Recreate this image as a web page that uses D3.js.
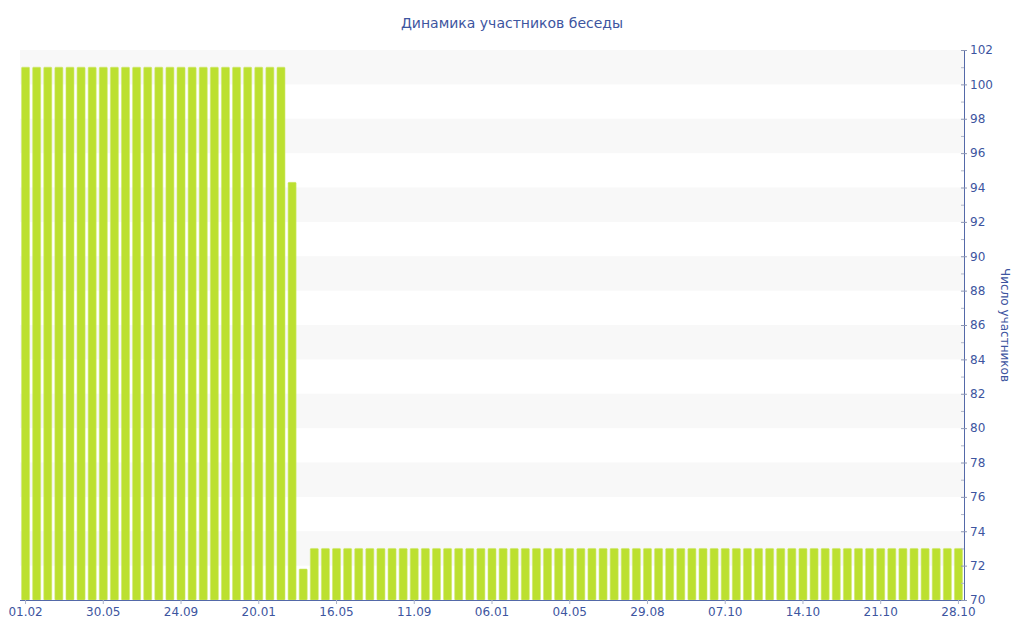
<!DOCTYPE html>
<html>
<head>
<meta charset="utf-8">
<script src="https://cdn.jsdelivr.net/npm/d3@7"></script>
<style>
  html, body { margin: 0; padding: 0; background: #ffffff; }
  svg { display: block; }
</style>
</head>
<body>
<svg id="chart" width="1024" height="640"></svg>
<script>
const titleText = "Динамика участников беседы";
const yAxisTitle = "Число участников";

const values = [
  101, 101, 101, 101, 101, 101, 101, 101, 101, 101, 101, 101,
  101, 101, 101, 101, 101, 101, 101, 101, 101, 101, 101, 101,
  94.3, 71.8,
  73, 73, 73, 73, 73, 73, 73, 73, 73, 73, 73, 73, 73, 73, 73,
  73, 73, 73, 73, 73, 73, 73, 73, 73, 73, 73, 73, 73, 73, 73,
  73, 73, 73, 73, 73, 73, 73, 73, 73, 73, 73, 73, 73, 73, 73,
  73, 73, 73, 73, 73, 73, 73, 73, 73, 73, 73, 73, 73, 73
];
const tickLabels = ["01.02", "30.05", "24.09", "20.01", "16.05", "11.09", "06.01",
                    "04.05", "29.08", "07.10", "14.10", "21.10", "28.10"];
const tickEvery = 7;
const yTicks = [70, 72, 74, 76, 78, 80, 82, 84, 86, 88, 90, 92, 94, 96, 98, 100, 102];

(function () {
const svg = d3.select("#chart");
const mLeft = 20, mRight = 964, mTop = 50, mBottom = 600;
const textColor = "#3d55a0";
const axisColor = "#5469a8";
const font = "DejaVu Sans, Verdana, sans-serif";

const x = d3.scaleBand()
  .domain(d3.range(values.length))
  .range([mLeft, mRight])
  .paddingInner(0.28)
  .paddingOuter(0.14);

const y = d3.scaleLinear().domain([70, 102]).range([mBottom, mTop]);

// alternating grid bands
const bands = d3.range(70, 102, 2).filter(v => ((v - 70) / 2) % 2 === 1);
svg.append("g").selectAll("rect").data(bands).join("rect")
  .attr("x", mLeft).attr("width", mRight - mLeft)
  .attr("y", d => y(d + 2)).attr("height", d => y(d) - y(d + 2))
  .attr("fill", "#f8f8f8");

// bars
svg.append("g").selectAll("rect").data(values).join("rect")
  .attr("x", (d, i) => x(i))
  .attr("width", x.bandwidth())
  .attr("y", d => y(d))
  .attr("height", d => y(70) - y(d))
  .attr("fill", "#bce030")
  .attr("stroke", "#cfe86a")
  .attr("stroke-width", 0.6)
  .attr("rx", 0.8);

// x axis
const xAxis = d3.axisBottom(x)
  .tickValues(tickLabels.map((_, i) => i * tickEvery))
  .tickFormat(i => tickLabels[i / tickEvery])
  .tickSize(4).tickSizeOuter(0).tickPadding(3);
const gx = svg.append("g").attr("transform", `translate(0,${mBottom})`).call(xAxis);
gx.select(".domain").attr("stroke", axisColor).attr("d", `M${mLeft},0.5H${mRight}`);
gx.selectAll(".tick line").attr("stroke", "#aab2c8");
gx.selectAll(".tick text").attr("fill", textColor).attr("font-size", 12).attr("font-family", font);

// y axis (right)
const yAxis = d3.axisRight(y).tickValues(yTicks).tickSize(3).tickPadding(3).tickSizeOuter(0);
const gy = svg.append("g").attr("transform", `translate(${mRight},0)`).call(yAxis);
gy.select(".domain").attr("stroke", axisColor);
gy.selectAll(".tick line").attr("stroke", "#8c96b4").attr("x1", -3);
gy.selectAll(".tick text").attr("fill", textColor).attr("font-size", 12).attr("font-family", font);
// minor ticks
gy.append("g").selectAll("line").data(d3.range(71, 102, 2)).join("line")
  .attr("x1", -3).attr("x2", 0)
  .attr("y1", d => y(d) + 0.5).attr("y2", d => y(d) + 0.5)
  .attr("stroke", "#b0b6c8");

// y axis title
svg.append("text")
  .attr("transform", `translate(1001,${(mTop + mBottom) / 2}) rotate(90)`)
  .attr("text-anchor", "middle")
  .attr("fill", textColor).attr("font-size", 12).attr("font-family", font)
  .text(yAxisTitle);

// title
svg.append("text")
  .attr("x", 512).attr("y", 28)
  .attr("text-anchor", "middle")
  .attr("fill", textColor).attr("font-size", 14).attr("font-family", font)
  .text(titleText);
})();
</script>
</body>
</html>
